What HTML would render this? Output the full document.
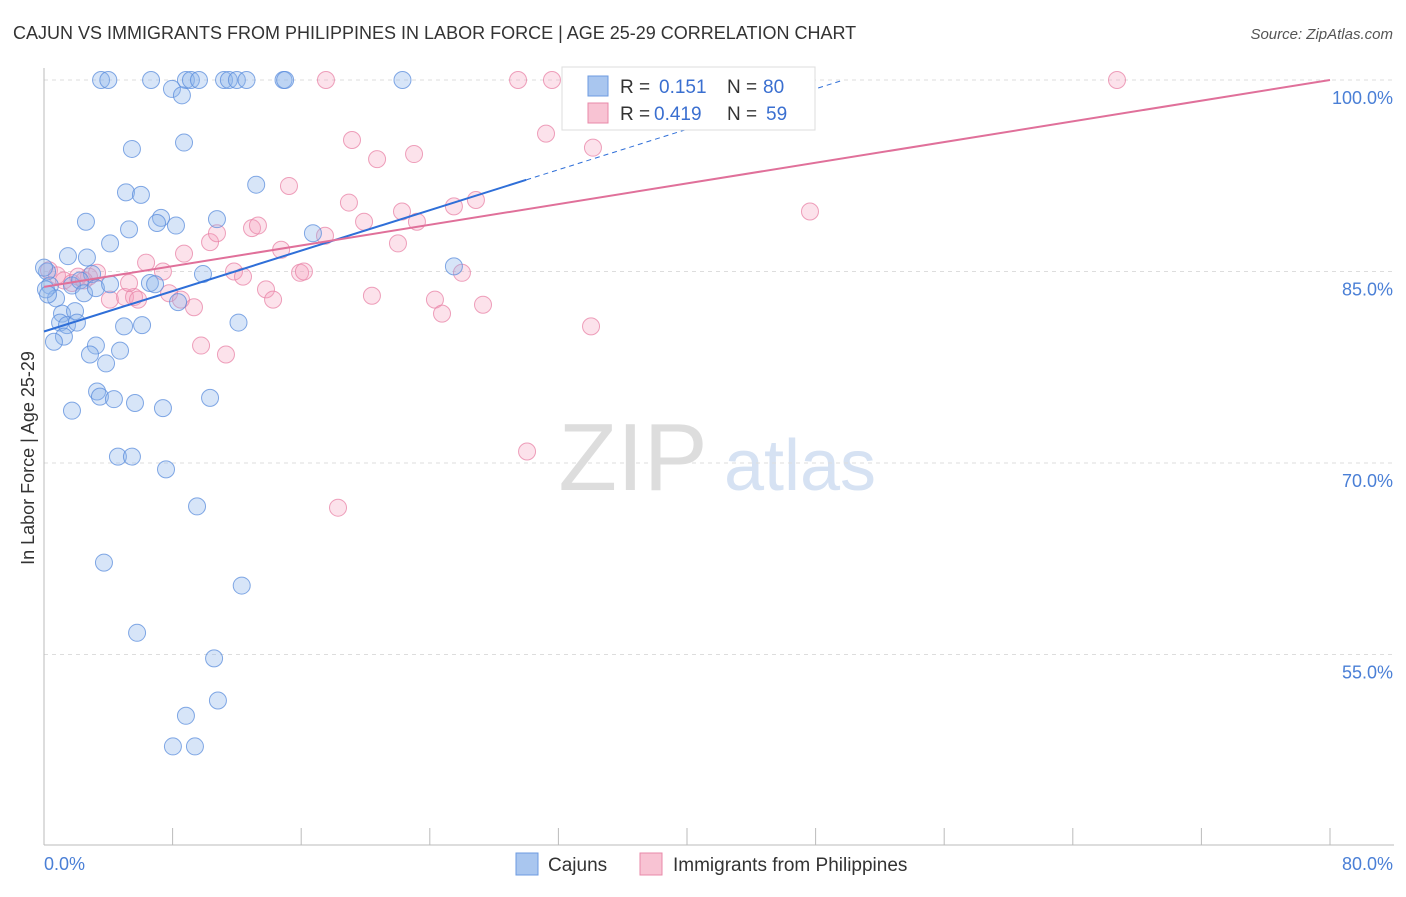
<!DOCTYPE html>
<html><head><meta charset="utf-8">
<style>
body{margin:0;background:#fff;font-family:"Liberation Sans",sans-serif;}
svg text{font-family:"Liberation Sans",sans-serif;}
</style></head>
<body>
<svg id="chart" width="1406" height="892" viewBox="0 0 1406 892" xmlns="http://www.w3.org/2000/svg">
<text x="13" y="39" font-size="18" fill="#333">CAJUN VS IMMIGRANTS FROM PHILIPPINES IN LABOR FORCE | AGE 25-29 CORRELATION CHART</text>
<text x="1393" y="39" font-size="15" fill="#555" font-style="italic" text-anchor="end">Source: ZipAtlas.com</text>
<g>
<text x="633" y="490" font-size="96" fill="#ddd" text-anchor="middle" font-family="Liberation Serif">ZIP</text>
<text x="800" y="490" font-size="72" fill="#d6e2f3" text-anchor="middle">atlas</text>
</g>
<g id="grid"></g>
<g id="axes"></g>
<g id="marks"></g>
<g id="lines"></g>
<text transform="translate(34,458) rotate(-90)" font-size="18" fill="#333" text-anchor="middle">In Labor Force | Age 25-29</text>
<g>
<rect x="562" y="67" width="253" height="63" fill="#fff" stroke="#ddd"/>
<rect x="588" y="76" width="20" height="20" fill="#a9c6ef" stroke="#6d9be0"/>
<text x="620" y="93" font-size="19" fill="#333">R = </text><text x="659" y="93" font-size="19" fill="#3a6fd0">0.151</text>
<text x="727" y="93" font-size="19" fill="#333">N = </text><text x="763" y="93" font-size="19" fill="#3a6fd0">80</text>
<rect x="588" y="103" width="20" height="20" fill="#f8c3d3" stroke="#e88aa8"/>
<text x="620" y="120" font-size="19" fill="#333">R = </text><text x="654" y="120" font-size="19" fill="#3a6fd0">0.419</text>
<text x="727" y="120" font-size="19" fill="#333">N = </text><text x="766" y="120" font-size="19" fill="#3a6fd0">59</text>
</g>
<g>
<rect x="516" y="853" width="22" height="22" fill="#a9c6ef" stroke="#6d9be0"/>
<text x="548" y="871" font-size="19" fill="#333">Cajuns</text>
<rect x="640" y="853" width="22" height="22" fill="#f8c3d3" stroke="#e88aa8"/>
<text x="673" y="871" font-size="19" fill="#333">Immigrants from Philippines</text>
</g>
</svg>
<script>
const cajunX=[3.55,4.0,6.66,8.83,9.14,9.64,11.2,11.5,12.0,12.6,14.9,15.0,22.3,7.96,8.58,5.47,8.71,13.2,5.10,6.03,2.61,7.28,7.03,8.21,10.76,5.29,16.73,4.11,1.49,2.67,25.5,9.89,2.99,0.19,0.37,0.75,0.12,1.74,2.24,2.49,3.23,6.59,6.91,8.34,1.12,1.93,1.0,1.43,2.05,4.98,6.10,12.1,1.24,0.62,3.23,4.73,2.86,3.86,3.30,3.48,4.35,5.66,7.40,10.33,1.74,4.60,5.47,7.59,9.52,3.73,12.3,5.79,10.58,8.83,10.82,8.02,9.39,0,0.25,4.11];
const cajunY=[100,100,100,100,100,100,100,100,100,100,100,100,100,99.3,98.8,94.6,95.1,91.8,91.2,91.0,88.9,89.2,88.8,88.6,89.1,88.3,88.0,87.2,86.2,86.1,85.4,84.8,84.8,85.0,83.9,82.9,83.6,83.9,84.3,83.3,83.7,84.1,84.0,82.6,81.7,81.9,81.0,80.8,81.0,80.7,80.8,81.0,79.9,79.5,79.2,78.8,78.5,77.8,75.6,75.2,75.0,74.7,74.3,75.1,74.1,70.5,70.5,69.5,66.6,62.2,60.4,56.7,54.7,50.2,51.4,47.8,47.8,85.3,83.2,84.0];
const philX=[0.31,0.81,1.24,1.74,2.8,3.3,4.1,5.04,5.6,5.29,5.85,6.35,7.4,7.78,8.52,9.33,8.71,9.77,10.33,10.76,11.32,11.82,12.38,12.94,13.31,13.81,14.25,14.75,15.24,15.93,16.17,17.54,17.48,18.97,19.16,19.91,20.4,20.72,22.02,22.27,23.02,23.2,24.32,24.76,25.5,26.0,26.87,27.31,29.49,30.05,31.23,31.6,18.29,34.03,34.15,47.65,66.75,2.12,2.49];
const philY=[85.1,84.7,84.3,84.1,84.6,84.9,82.8,83.0,83.0,84.1,82.8,85.7,85.0,83.3,82.8,82.2,86.4,79.2,87.3,88.0,78.5,85.0,84.6,88.4,88.6,83.6,82.8,86.7,91.7,84.9,85.0,100,87.8,90.4,95.3,88.9,83.1,93.8,87.2,89.7,94.2,88.9,82.8,81.7,90.1,84.9,90.6,82.4,100,70.9,95.8,100,66.5,80.7,94.7,89.7,100,84.6,84.3];
const yTicks=[100,85,70,55];
const yTickLabels=["100.0%","85.0%","70.0%","55.0%"];
const xTicks=[0,8,16,24,32,40,48,56,64,72,80];
const cajunTrend=[80.3,0.396];
const philTrend=[83.8,0.2025];
const NS="http://www.w3.org/2000/svg";
function sx(v){return 44+v*16.075;}
function sy(v){return 80+(100-v)*12.767;}
function mk(tag,attrs,parent){const e=document.createElementNS(NS,tag);for(const k in attrs)e.setAttribute(k,attrs[k]);document.getElementById(parent).appendChild(e);return e;}
yTicks.forEach((t,i)=>{
 const l=mk('line',{x1:44,x2:1394,y1:sy(t),y2:sy(t),stroke:'#ddd','stroke-dasharray':'4,4'},'grid');
 
 
 const tx=mk('text',{x:1393,y:sy(t)+24,'font-size':18,fill:'#4a7fd6','text-anchor':'end'},'axes');
 tx.textContent=yTickLabels[i];
 
 
});
const ax=mk('line',{x1:44,x2:44,y1:68,y2:845,stroke:'#bbb'},'axes');


const bx=mk('line',{x1:44,x2:1394,y1:845,y2:845,stroke:'#bbb'},'axes');


xTicks.forEach(t=>{
 const l=mk('line',{x1:sx(t),x2:sx(t),y1:828,y2:845,stroke:'#bbb'},'axes');
 
 
});
const xl0=mk('text',{x:44,y:870,'font-size':18,fill:'#4a7fd6'},'axes');xl0.textContent='0.0%';


const xl1=mk('text',{x:1393,y:870,'font-size':18,fill:'#4a7fd6','text-anchor':'end'},'axes');xl1.textContent='80.0%';


philX.forEach((x,i)=>{
 const c=mk('circle',{cx:sx(x),cy:sy(philY[i]),r:8.5,fill:'rgba(244,160,188,0.3)',stroke:'rgba(232,130,165,0.75)','stroke-width':1},'marks');
 
 
});
cajunX.forEach((x,i)=>{
 const c=mk('circle',{cx:sx(x),cy:sy(cajunY[i]),r:8.5,fill:'rgba(140,180,235,0.35)',stroke:'rgba(90,140,220,0.75)','stroke-width':1},'marks');
 
 
});
const bEnd=30,bTop=(100-cajunTrend[0])/cajunTrend[1];
const tl1=mk('line',{x1:sx(0),y1:sy(cajunTrend[0]),x2:sx(bEnd),y2:sy(cajunTrend[0]+cajunTrend[1]*bEnd),stroke:'#2f6fd8','stroke-width':2},'lines');


const tl2=mk('line',{x1:sx(bEnd),y1:sy(cajunTrend[0]+cajunTrend[1]*bEnd),x2:sx(bTop),y2:sy(100),stroke:'#2f6fd8','stroke-width':1,'stroke-dasharray':'5,4'},'lines');


const tl3=mk('line',{x1:sx(0),y1:sy(philTrend[0]),x2:sx(80),y2:sy(philTrend[0]+philTrend[1]*80),stroke:'#e0709a','stroke-width':2},'lines');


</script>
</body></html>
